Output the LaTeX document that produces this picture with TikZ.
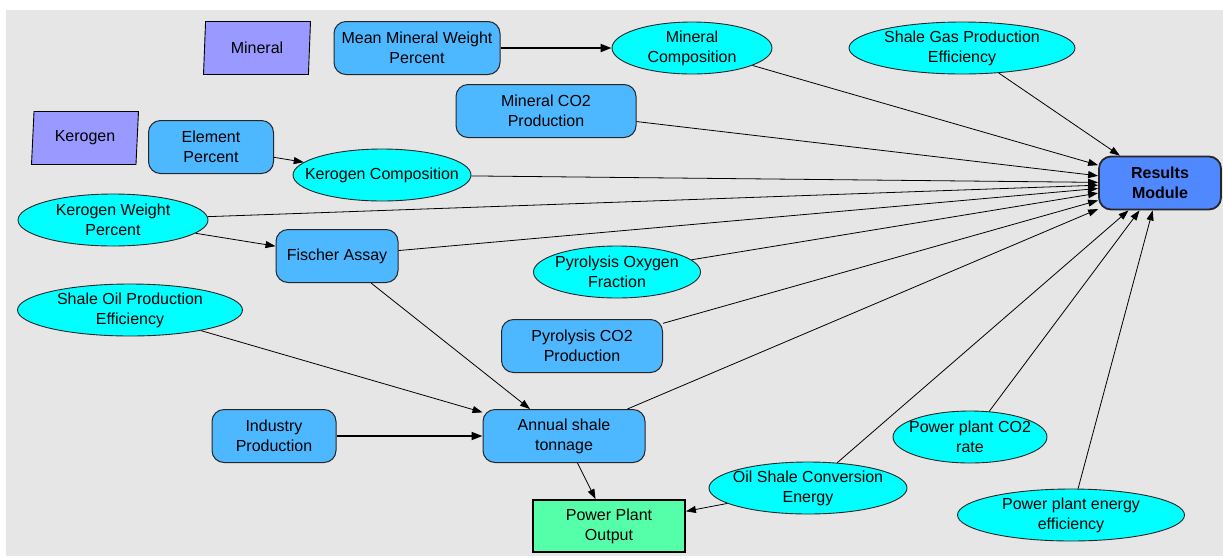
\documentclass[tikz,border=0pt]{standalone}
\usepackage{fontspec}
\setmainfont{Liberation Sans}
\usetikzlibrary{shapes.geometric,arrows.meta}
\definecolor{bgcol}{HTML}{E6E6E6}
\definecolor{paracol}{HTML}{9999FF}
\definecolor{boxcol}{HTML}{4DB8FF}
\definecolor{ellcol}{HTML}{00FFFF}
\definecolor{rescol}{HTML}{5088FF}
\definecolor{outcol}{HTML}{55FFAA}
\begin{document}
\begin{tikzpicture}[x=1pt,y=-1pt]
\tikzstyle{every node}+=[inner sep=0pt,align=center,font=\fontsize{16}{20}\selectfont]
\tikzstyle{inputnode}=[trapezium,trapezium left angle=80,trapezium right angle=100,trapezium stretches body,draw=black,line width=0.9pt,fill=paracol,minimum width=107,minimum height=53]
\tikzstyle{calcnode}=[rectangle,rounded corners=12pt,draw=black!85,line width=1pt,fill=boxcol,minimum height=53]
\tikzstyle{paramnode}=[ellipse,draw=black!85,line width=0.9pt,fill=ellcol,minimum height=52,inner xsep=-40pt,inner ysep=-12pt]
\tikzstyle{arr}=[draw,line width=0.8pt,-{Triangle[length=10pt,width=7pt]}]
\tikzstyle{thickarr}=[draw,line width=1.8pt,-{Triangle[length=11pt,width=8pt]}]
\useasboundingbox (0,0) rectangle (1223,558);
\fill[bgcol] (6,10) rectangle (1223,556);
\node[inputnode] (mineral) at (257,48) {Mineral};
\node[inputnode] (kerogen) at (85,138) {Kerogen};
\node[calcnode,minimum width=166] (meanmin) at (417,48) {Mean Mineral Weight\\Percent};
\node[paramnode,minimum width=160] (mincomp) at (692,48) {Mineral\\Composition};
\node[paramnode,minimum width=226] (gaseff) at (962,48) {Shale Gas Production\\Efficiency};
\node[calcnode,minimum width=180] (minco2) at (546,111) {Mineral CO2\\Production};
\node[calcnode,minimum width=125] (element) at (211,147) {Element\\Percent};
\node[paramnode,minimum width=178] (kercomp) at (382,175) {Kerogen Composition};
\node[calcnode,minimum width=122,line width=1.8pt,fill=rescol,font=\fontsize{16}{20}\selectfont\bfseries] (results) at (1160,183) {Results\\Module};
\node[paramnode,minimum width=190] (kerweight) at (113,220) {Kerogen Weight\\Percent};
\node[calcnode,minimum width=122] (fischer) at (337,256) {Fischer Assay};
\node[paramnode,minimum width=167] (pyroxy) at (617,272) {Pyrolysis Oxygen\\Fraction};
\node[paramnode,minimum width=225] (oileff) at (130,310) {Shale Oil Production\\Efficiency};
\node[calcnode,minimum width=161] (pyroco2) at (582,346) {Pyrolysis CO2\\Production};
\node[calcnode,minimum width=124] (industry) at (274,436) {Industry\\Production};
\node[calcnode,minimum width=162] (annual) at (564,436) {Annual shale\\tonnage};
\node[paramnode,minimum width=154] (ppco2) at (970,437) {Power plant CO2\\rate};
\node[paramnode,minimum width=198] (convert) at (808,488) {Oil Shale Conversion\\Energy};
\node[paramnode,minimum width=227] (ppeff) at (1071,515) {Power plant energy\\efficiency};
\node[rectangle,draw=black,line width=1.8pt,fill=outcol,minimum width=152,minimum height=52] (output) at (609,526) {Power Plant\\Output};
\draw[thickarr] (meanmin) -- (mincomp);
\draw[thickarr] (industry) -- (annual);
\draw[arr] (element) -- (kercomp);
\draw[arr] (kerweight) -- (fischer);
\draw[arr] (oileff) -- (annual);
\draw[arr] (fischer) -- (annual);
\draw[arr] (annual) -- (output);
\draw[arr] (convert) -- (output);
\foreach \src in {mincomp,gaseff,minco2,kercomp,kerweight,fischer,pyroxy,pyroco2,annual,convert,ppco2,ppeff}
  \draw[arr] (\src) -- (results);
\end{tikzpicture}
\end{document}
